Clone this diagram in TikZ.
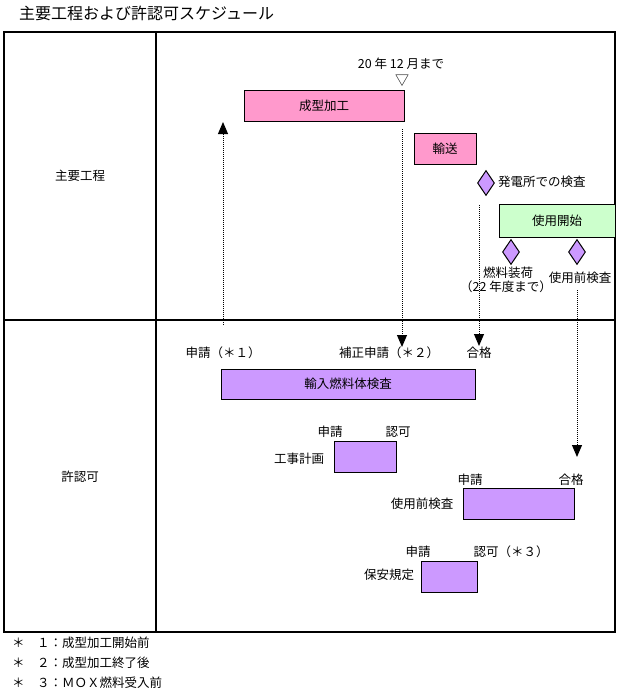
\documentclass[tikz,border=0pt]{standalone}
\usepackage{fontspec}
\setmainfont{Noto Sans CJK JP}
\usetikzlibrary{arrows.meta,shapes.geometric}
\definecolor{kpink}{RGB}{255,153,204}
\definecolor{kpurple}{RGB}{204,153,255}
\definecolor{kgreen}{RGB}{204,255,204}

\begin{document}
\begin{tikzpicture}[
    x=1pt, y=-1pt,
    every node/.style={font=\fontsize{12.5}{14}\selectfont, inner sep=0pt},
    bar/.style={draw, line width=1pt, minimum height=31pt},
    pinkbar/.style={bar, fill=kpink},
    purplebar/.style={bar, fill=kpurple},
    greenbar/.style={bar, fill=kgreen, minimum height=33pt},
    milestone/.style={diamond, draw, line width=1pt, fill=kpurple, minimum width=17pt, minimum height=25pt, aspect=0.68},
    arrow/.style={-{Triangle[length=12pt,width=10pt]}, line width=1pt, dash pattern=on 1pt off 1pt}
  ]
    \useasboundingbox (0,0) rectangle (620,691);
    \node[anchor=west, font=\fontsize{16}{18}\selectfont] (title) at (19,13) {主要工程および許認可スケジュール};

    \draw[line width=2.8pt] (4,32) rectangle (615,632);
    \draw[line width=2.8pt] (156,32) -- (156,632);
    \draw[line width=1.2pt] (4,320) -- (615,320);

    \node (koutei) at (80,176) {主要工程};
    \node (ninka) at (80,477) {許認可};

    \node (deadline) at (401,64) {20 年 12 月まで};
    \node[font=\fontsize{14}{14}\selectfont] (deadmark) at (402,81) {▽};
    \node[pinkbar, minimum width=160pt] (kakou) at (324,105.5) {成型加工};
    \node[pinkbar, minimum width=62pt] (yusou) at (445,148.5) {輸送};
    \node[milestone] (kensa1) at (486,183) {};
    \node[anchor=west] (kensa1lbl) at (498,182) {発電所での検査};
    \node[greenbar, minimum width=116pt] (kaishi) at (557,220.5) {使用開始};
    \node[milestone] (souka) at (511,252) {};
    \node[milestone] (maekensa) at (577,252) {};
    \node (soukalbl) at (508,273) {燃料装荷};
    \node (soukalbl2) at (506,287) {（22 年度まで）};
    \node (maekensalbl) at (580,278) {使用前検査};

    \node (req1) at (223,353) {申請（＊１）};
    \node (req2) at (389,353) {補正申請（＊２）};
    \node (pass1) at (479,353) {合格};
    \node[purplebar, minimum width=254pt, minimum height=30pt] (yunyu) at (348,384) {輸入燃料体検査};

    \node (kojireq) at (330,432) {申請};
    \node (kojiok) at (398,432) {認可};
    \node (kojilbl) at (299,459) {工事計画};
    \node[purplebar, minimum width=62pt] (koji) at (365,456.5) {};

    \node (maereq) at (470,480) {申請};
    \node (maepass) at (571,480) {合格};
    \node (maelbl) at (422,504) {使用前検査};
    \node[purplebar, minimum width=111pt] (mae) at (518.5,503.5) {};

    \node (hoanreq) at (418,552) {申請};
    \node (hoanok) at (511,552) {認可（＊３）};
    \node (hoanlbl) at (389,575) {保安規定};
    \node[purplebar, minimum width=56pt] (hoan) at (449,576.5) {};

    \node[anchor=west] (note1) at (12,643) {＊　１：成型加工開始前};
    \node[anchor=west] (note2) at (12,663) {＊　２：成型加工終了後};
    \node[anchor=west] (note3) at (12,683) {＊　３：ＭＯＸ燃料受入前};

    \coordinate (req1top) at (223,325);
    \coordinate (kakoutip) at (223,122);
    \coordinate (kakouend) at (402,129);
    \coordinate (req2tip) at (402,347);
    \coordinate (kensa1end) at (479,205);
    \coordinate (pass1tip) at (479,346);
    \coordinate (maekensaend) at (577,290);
    \coordinate (maepasstip) at (577,457);

    \draw[arrow] (req1top) -- (kakoutip);
    \draw[arrow] (kakouend) -- (req2tip);
    \draw[arrow] (kensa1end) -- (pass1tip);
    \draw[arrow] (maekensaend) -- (maepasstip);
  \end{tikzpicture}
\end{document}
